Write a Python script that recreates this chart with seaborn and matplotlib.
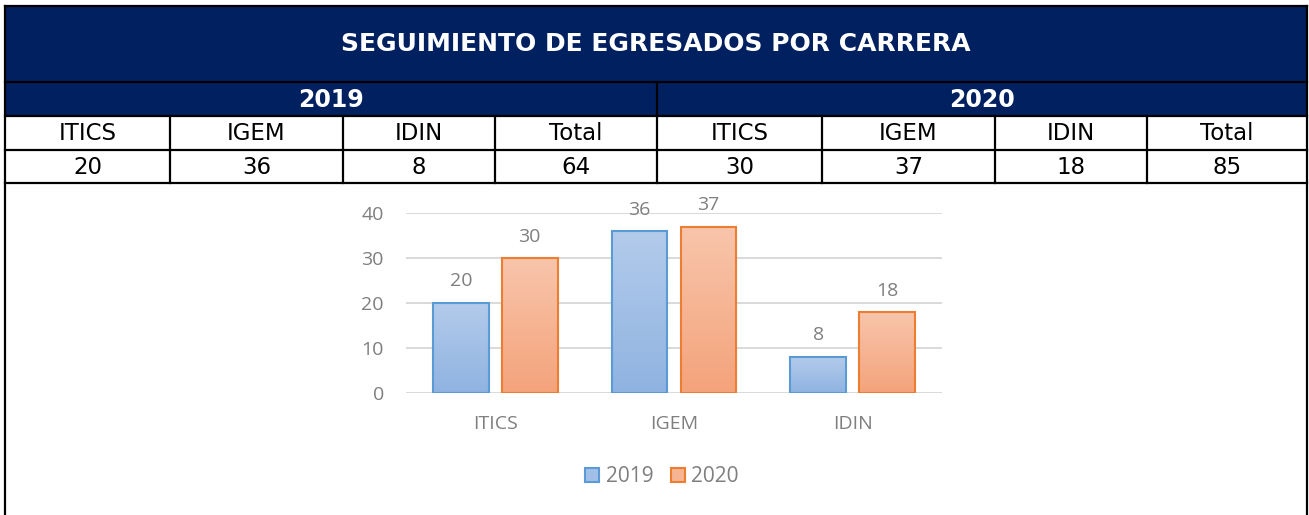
import matplotlib.pyplot as plt
import numpy as np
import pandas as pd
import seaborn as sns
from matplotlib.colors import LinearSegmentedColormap
from matplotlib.patches import Patch, Rectangle

# data
CATEGORIES = ["ITICS", "IGEM", "IDIN"]
YEARS = ["2019", "2020"]
VALUES_2019 = [20, 36, 8]
VALUES_2020 = [30, 37, 18]
TITLE = "SEGUIMIENTO DE EGRESADOS POR CARRERA"
TOTAL_LABEL = "Total"
Y_TICKS = [0, 10, 20, 30, 40]

# style
NAVY = "#002060"
GRID = "#D9D9D9"
TEXT_GRAY = "#7F7F7F"
EDGE = {"2019": "#5B9BD5", "2020": "#ED7D31"}
FILL_TOP = {"2019": "#B3CBEB", "2020": "#F8C5AB"}
FILL_BOTTOM = {"2019": "#8FB3E1", "2020": "#F4A37B"}
FILL_MID = {"2019": "#A2C0E7", "2020": "#F6B493"}

W, H = 1309, 515
COL_EDGES = [5, 170, 343, 495, 657, 822, 995, 1147, 1307]
ROW_EDGES = [6, 82, 116, 150, 183]

sns.set_style("white")
plt.rcParams["font.family"] = ["Open Sans", "DejaVu Sans"]

fig = plt.figure(figsize=(W / 100, H / 100), dpi=100)

# ---- table part, drawn in pixel coordinates ----
bg = fig.add_axes([0, 0, 1, 1])
bg.set_xlim(0, W)
bg.set_ylim(H, 0)
bg.axis("off")

left, right = COL_EDGES[0], COL_EDGES[-1]
bg.add_patch(Rectangle((left, ROW_EDGES[0]), right - left, ROW_EDGES[2] - ROW_EDGES[0],
                       facecolor=NAVY, edgecolor="none"))
line_kw = dict(color="black", lw=1.6, solid_capstyle="projecting")
for y in ROW_EDGES:
    bg.plot([left, right], [y, y], **line_kw)
for x in (left, right):
    bg.plot([x, x], [ROW_EDGES[0], H], **line_kw)
mid_x = COL_EDGES[4]
bg.plot([mid_x, mid_x], [ROW_EDGES[1], ROW_EDGES[2]], **line_kw)
for x in COL_EDGES[1:-1]:
    bg.plot([x, x], [ROW_EDGES[2], ROW_EDGES[4]], **line_kw)

bg.text((left + right) / 2, (ROW_EDGES[0] + ROW_EDGES[1]) / 2, TITLE, color="white",
        fontsize=18, fontweight="bold", family=["DejaVu Sans"], ha="center", va="center")
year_centers = [(left + mid_x) / 2, (mid_x + right) / 2]
for xc, year in zip(year_centers, YEARS):
    bg.text(xc, (ROW_EDGES[1] + ROW_EDGES[2]) / 2 + 1, year, color="white", fontsize=17,
            fontweight="bold", family=["DejaVu Sans"], ha="center", va="center")

header = CATEGORIES + [TOTAL_LABEL]
table_rows = [VALUES_2019 + [sum(VALUES_2019)], VALUES_2020 + [sum(VALUES_2020)]]
cell_kw = dict(fontsize=16.5, color="black", family=["DejaVu Sans"], ha="center", va="center")
for block, vals in enumerate(table_rows):
    for j, (name, v) in enumerate(zip(header, vals)):
        k = block * 4 + j
        xc = (COL_EDGES[k] + COL_EDGES[k + 1]) / 2
        bg.text(xc, (ROW_EDGES[2] + ROW_EDGES[3]) / 2 + 1, name, **cell_kw)
        bg.text(xc, (ROW_EDGES[3] + ROW_EDGES[4]) / 2 + 1, str(v), **cell_kw)

# ---- bar chart ----
df = pd.DataFrame({
    "carrera": CATEGORIES * 2,
    "anio": [YEARS[0]] * len(CATEGORIES) + [YEARS[1]] * len(CATEGORIES),
    "egresados": VALUES_2019 + VALUES_2020,
})

ax = fig.add_axes([406 / W, 1 - 393 / H, 536 / W, 180 / H])
ax.set_facecolor("none")
sns.barplot(data=df, x="carrera", y="egresados", hue="anio", order=CATEGORIES,
            hue_order=YEARS, palette=FILL_MID, width=0.77, gap=0.19, legend=False,
            errorbar=None, ax=ax)

ramp = np.linspace(0, 1, 128).reshape(-1, 1)
for year, container in zip(YEARS, ax.containers):
    cmap = LinearSegmentedColormap.from_list(year, [FILL_BOTTOM[year], FILL_TOP[year]])
    for bar in container:
        bar.set_edgecolor(EDGE[year])
        bar.set_linewidth(1.5)
        x0, y0 = bar.get_x(), bar.get_y()
        img = ax.imshow(ramp, extent=[x0, x0 + bar.get_width(), y0, y0 + bar.get_height()],
                        cmap=cmap, aspect="auto", origin="lower", zorder=bar.get_zorder() - 0.1)
        img.set_clip_path(bar)
        bar.set_facecolor("none")
    ax.bar_label(container, padding=9, color=TEXT_GRAY, fontsize=14)

ax.set_xlim(-0.5, 2.5)
ax.set_ylim(0, 40)
ax.set_yticks(Y_TICKS)
ax.yaxis.grid(True, color=GRID, lw=1.4)
ax.set_axisbelow(True)
for s in ax.spines.values():
    s.set_visible(False)
ax.tick_params(axis="y", length=0, pad=16, labelcolor=TEXT_GRAY, labelsize=14)
ax.tick_params(axis="x", length=0, pad=16, labelcolor=TEXT_GRAY, labelsize=14)
ax.set_xlabel("")
ax.set_ylabel("")

handles = [Patch(facecolor=FILL_MID[y], edgecolor=EDGE[y], lw=1.5, label=y) for y in YEARS]
fig.legend(handles=handles, loc="center", bbox_to_anchor=(662 / W, 1 - 477 / H), ncol=2,
           frameon=False, fontsize=15, handlelength=0.67, handleheight=0.67,
           handletextpad=0.3, columnspacing=0.85, labelcolor=TEXT_GRAY)

fig.savefig("out.png", dpi=100)
